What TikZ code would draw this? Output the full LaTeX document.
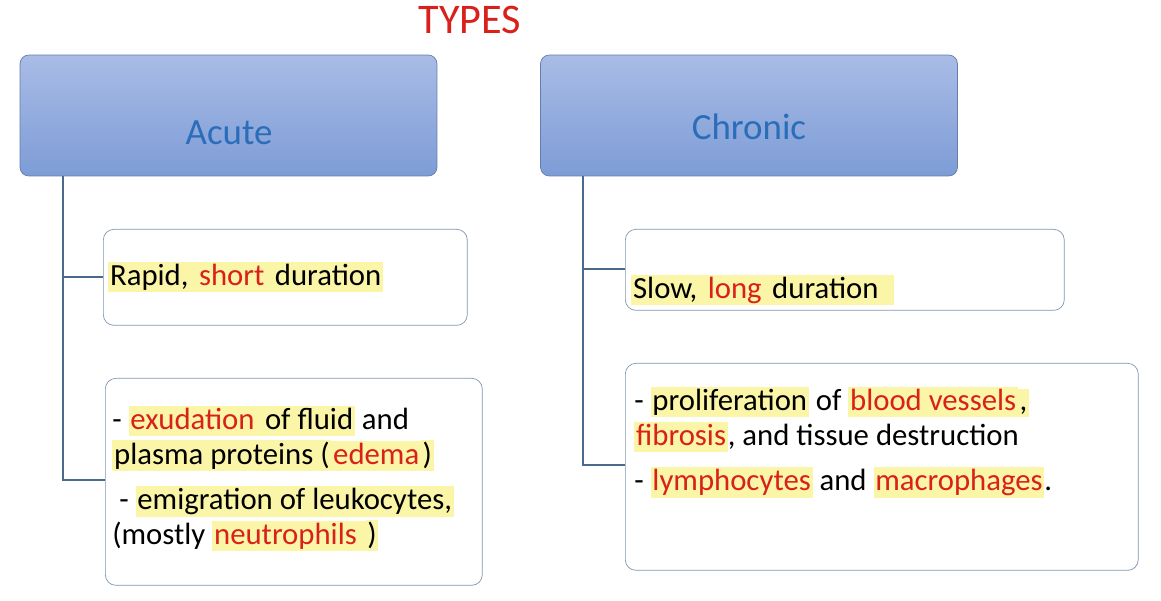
\documentclass[tikz,border=0pt]{standalone}
\usepackage{fontspec}
\setmainfont{Carlito}
\usetikzlibrary{positioning}
\definecolor{hdtop}{HTML}{A9BCE6}
\definecolor{hdbot}{HTML}{7D9CD6}
\definecolor{hdtext}{HTML}{2A6DB8}
\definecolor{keyred}{HTML}{D9201B}
\definecolor{hlyel}{HTML}{FBF5A8}
\definecolor{linkc}{HTML}{4A6A8C}
\newcommand{\hl}[1]{{\setlength{\fboxsep}{1pt}\colorbox{hlyel}{\vphantom{Ag}#1}}}
\newcommand{\kw}[1]{\hl{\textcolor{keyred}{#1}}}
\tikzset{
  header/.style={draw=hdbot!80!black, rounded corners=5pt, top color=hdtop, bottom color=hdbot,
    minimum width=8.34cm, minimum height=2.42cm},
  headtext/.style={text=hdtext, font=\fontsize{21}{25}\selectfont},
  infobox/.style={draw=linkc!70, rounded corners=6pt, fill=white, anchor=north west},
  infotext/.style={font=\fontsize{17.5}{19.8}\selectfont, anchor=north west, align=left, inner sep=0pt},
  link/.style={draw=linkc, line width=0.7pt}
}
\begin{document}
\begin{tikzpicture}[x=0.02cm,y=-0.02cm]
\useasboundingbox (0,0) rectangle (1161,601);
\node[text=keyred, font=\fontsize{24}{28}\selectfont] (title) at (470,20) {TYPES};
%
\node[header] (acute) at (228.5,115.5) {};
\node[headtext] (acutelbl) at (229,133) {Acute};
\node[header] (chronic) at (749,115.5) {};
\node[headtext] (chroniclbl) at (749,127) {Chronic};
%
\node[infobox, minimum width=7.28cm, minimum height=1.92cm] (rapid) at (103,229) {};
\node[infotext, anchor=west] (rapidtxt) at (108,277)
  {\hl{Rapid, }\kw{short}\hl{ duration}};
\node[infobox, minimum width=7.54cm, minimum height=4.14cm] (exud) at (105,378) {};
\node[infotext] (exudtxt) at (112,406)
  {- \kw{exudation }\hl{of fluid} and\\
   \hl{plasma proteins (}\kw{edema}\hl{)}\\[6pt]
   \ - \hl{emigration of leukocytes,}\\
   (mostly \kw{neutrophils }\hl{)}};
\node[infobox, minimum width=8.78cm, minimum height=1.62cm] (slow) at (625,229) {};
\node[infotext, anchor=west] (slowtxt) at (631,290)
  {\hl{Slow, }\kw{long}\hl{ duration\ \ }};
\node[infobox, minimum width=10.26cm, minimum height=4.14cm] (prolif) at (625,363) {};
\node[infotext] (prolittxt) at (634,387)
  {- \hl{proliferation} of \kw{blood vessels}\hl{,}\\
   \kw{fibrosis}, and tissue destruction\\[6pt]
   - \kw{lymphocytes} and \kw{macrophages}.};
%
\coordinate (aone) at (63,277);
\coordinate (atwo) at (63,480);
\coordinate (cone) at (583,269);
\coordinate (ctwo) at (583,465);
\draw[link] (acute.south -| aone) -- (atwo) -- (atwo -| exud.west);
\draw[link] (aone) -- (aone -| rapid.west);
\draw[link] (chronic.south -| cone) -- (ctwo) -- (ctwo -| prolif.west);
\draw[link] (cone) -- (cone -| slow.west);
\end{tikzpicture}
\end{document}
